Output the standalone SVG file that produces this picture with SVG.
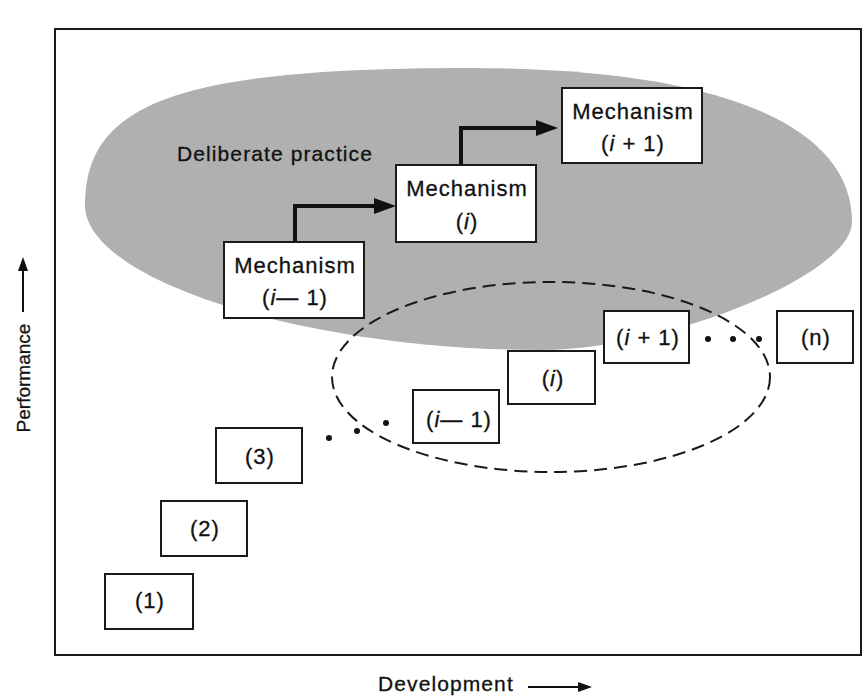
<svg xmlns="http://www.w3.org/2000/svg" width="867" height="698" viewBox="0 0 867 698">
<style>
  .box { fill: #ffffff; stroke: #1a1a1a; stroke-width: 2; }
  .t { font-family: "Liberation Sans", Arial, sans-serif; font-size: 22px; fill: #111111; stroke: #111111; stroke-width: 0.3; letter-spacing: 1px; text-anchor: middle; }
  .lbl { font-family: "Liberation Sans", Arial, sans-serif; font-size: 21px; fill: #111111; stroke: #111111; stroke-width: 0.3; letter-spacing: 1.1px; }
  .conn { fill: none; stroke: #111111; stroke-width: 4; }
  .axis { fill: none; stroke: #111111; stroke-width: 2; }
  .dot { fill: #111111; }
</style>
<defs>
  <marker id="head" markerUnits="userSpaceOnUse" markerWidth="22" markerHeight="16" refX="4" refY="8" orient="auto">
    <path d="M0,0 L22,8 L0,16 Z" fill="#111111"/>
  </marker>
  <marker id="ahead" markerUnits="userSpaceOnUse" markerWidth="14" markerHeight="10" refX="2" refY="5" orient="auto">
    <path d="M0,0 L14,5 L0,10 Z" fill="#111111"/>
  </marker>
</defs>
<rect width="867" height="698" fill="#ffffff"/>

<g id="frame">
  <rect x="55" y="29" width="806" height="626" fill="none" stroke="#1a1a1a" stroke-width="2"/>
</g>

<g id="deliberate-practice">
  <path d="M85,205 C85,102 181,68 470,68 C720,68 852,125 852,222 C852,275 665,350 540,350 C312,350 85,282 85,205 Z" fill="#b0b0b0"/>
  <text class="lbl" x="177" y="161">Deliberate practice</text>
</g>

<g id="dashed-region">
  <ellipse cx="551" cy="377" rx="219" ry="95" fill="none" stroke="#1a1a1a" stroke-width="2" stroke-dasharray="13,7"/>
</g>

<g id="connectors">
  <path class="conn" d="M295,242 V206 H378" marker-end="url(#head)"/>
  <path class="conn" d="M461,165 V128 H540" marker-end="url(#head)"/>
  <path class="axis" d="M23,312 V269" marker-end="url(#ahead)"/>
  <path class="axis" d="M528,687 H580" marker-end="url(#ahead)"/>
</g>

<g id="mech-i-minus-1">
  <rect class="box" x="224" y="242" width="140" height="76"/>
  <text class="t" x="295" y="273">Mechanism</text>
  <text class="t" x="295" y="305">(<tspan font-style="italic">i</tspan>— 1)</text>
</g>
<g id="mech-i">
  <rect class="box" x="396" y="165" width="140" height="77"/>
  <text class="t" x="467" y="196">Mechanism</text>
  <text class="t" x="467" y="229" letter-spacing="3">(<tspan font-style="italic">i</tspan>)</text>
</g>
<g id="mech-i-plus-1">
  <rect class="box" x="562" y="88" width="140" height="75"/>
  <text class="t" x="633" y="119">Mechanism</text>
  <text class="t" x="633" y="151">(<tspan font-style="italic">i</tspan> + 1)</text>
</g>

<g id="step-1">
  <rect class="box" x="105" y="574" width="88" height="55"/>
  <text class="t" x="150" y="608">(1)</text>
</g>
<g id="step-2">
  <rect class="box" x="161" y="501" width="86" height="55"/>
  <text class="t" x="205" y="536">(2)</text>
</g>
<g id="step-3">
  <rect class="box" x="216" y="428" width="86" height="55"/>
  <text class="t" x="260" y="464">(3)</text>
</g>
<g id="step-i-minus-1">
  <rect class="box" x="413" y="390" width="86" height="53"/>
  <text class="t" x="459" y="427">(<tspan font-style="italic">i</tspan>— 1)</text>
</g>
<g id="step-i">
  <rect class="box" x="508" y="351" width="87" height="53"/>
  <text class="t" x="553" y="386" letter-spacing="3">(<tspan font-style="italic">i</tspan>)</text>
</g>
<g id="step-i-plus-1">
  <rect class="box" x="604" y="311" width="85" height="52"/>
  <text class="t" x="648" y="345">(<tspan font-style="italic">i</tspan> + 1)</text>
</g>
<g id="step-n">
  <rect class="box" x="777" y="311" width="76" height="52"/>
  <text class="t" x="816" y="345">(n)</text>
</g>

<g id="ellipsis-dots">
  <circle class="dot" cx="329" cy="438" r="3"/>
  <circle class="dot" cx="357" cy="431" r="3"/>
  <circle class="dot" cx="386" cy="423" r="3"/>
  <circle class="dot" cx="708" cy="339" r="3"/>
  <circle class="dot" cx="733" cy="339" r="3"/>
  <circle class="dot" cx="759" cy="339" r="3"/>
</g>

<g id="axis-labels">
  <text font-family="Liberation Sans, Arial, sans-serif" font-size="19" fill="#111111" stroke="#111111" stroke-width="0.3" text-anchor="middle" transform="translate(30,378) rotate(-90)">Performance</text>
  <text class="lbl" x="378" y="691" letter-spacing="1.2">Development</text>
</g>
</svg>
